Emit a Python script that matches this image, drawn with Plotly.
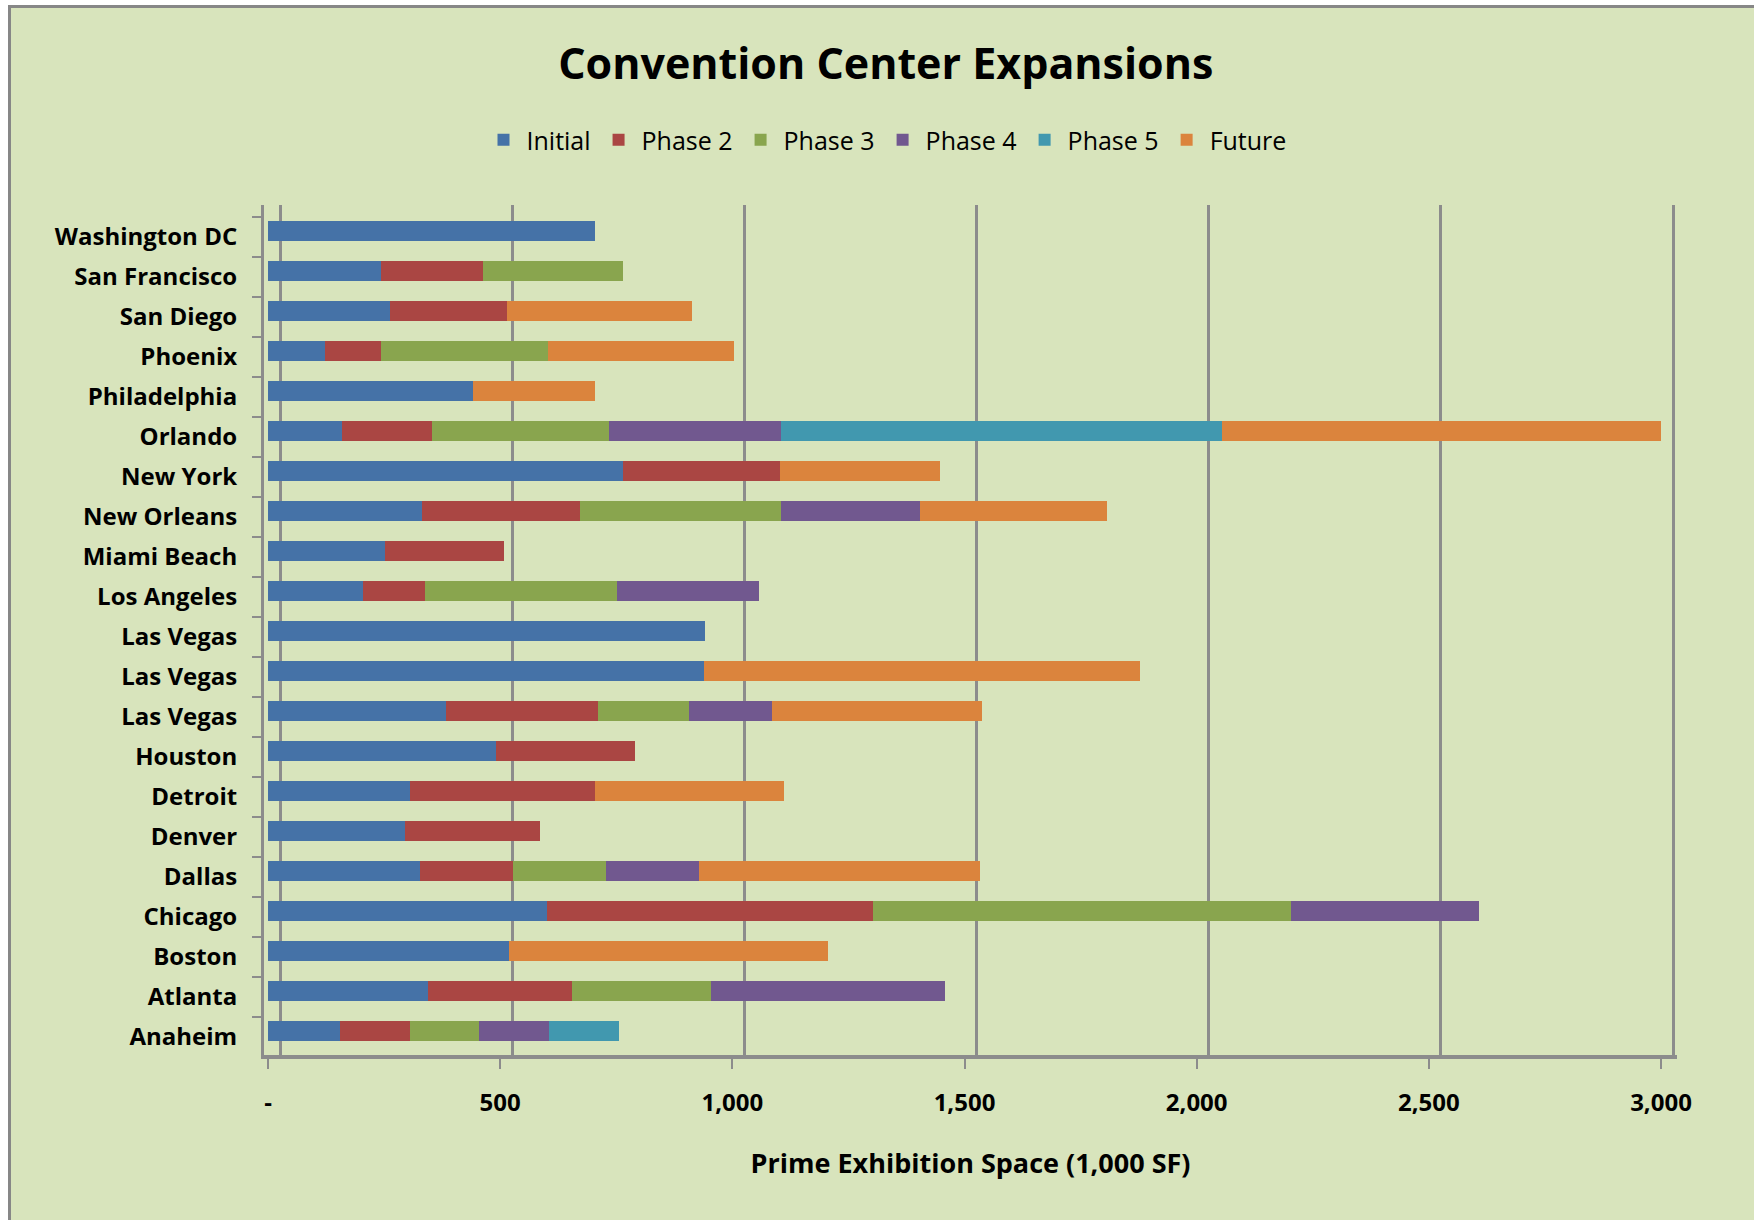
import plotly.graph_objects as go

# ---------------- data (bottom to top) ----------------
centers = ["Anaheim", "Atlanta", "Boston", "Chicago", "Dallas", "Denver", "Detroit",
           "Houston", "Las Vegas", "Las Vegas", "Las Vegas", "Los Angeles", "Miami Beach",
           "New Orleans", "New York", "Orlando", "Philadelphia", "Phoenix", "San Diego",
           "San Francisco", "Washington DC"]

initial = [155, 345, 520, 600, 327, 295, 305, 490, 383, 940, 942, 204, 253, 332, 765, 160, 442, 123, 263, 243, 705]
phase2  = [150, 310, 0,   703, 200, 290, 400, 300, 328, 0,   0,   135, 256, 340, 338, 193, 0,   120, 251, 221, 0]
phase3  = [150, 300, 0,   900, 200, 0,   0,   0,   196, 0,   0,   413, 0,   433, 0,   382, 0,   360, 0,   301, 0]
phase4  = [150, 502, 0,   405, 202, 0,   0,   0,   178, 0,   0,   305, 0,   299, 0,   370, 0,   0,   0,   0,   0]
phase5  = [150, 0,   0,   0,   0,   0,   0,   0,   0,   0,   0,   0,   0,   0,   0,   950, 0,   0,   0,   0,   0]
future  = [0,   0,   685, 0,   604, 0,   406, 0,   453, 938, 0,   0,   0,   403, 344, 945, 262, 401, 399, 0,   0]

series_names = ["Initial", "Phase 2", "Phase 3", "Phase 4", "Phase 5", "Future"]
series_values = [initial, phase2, phase3, phase4, phase5, future]
colors = ["#4572A7", "#AA4643", "#89A54E", "#71588F", "#4198AF", "#DB843D"]

x_ticks = [0, 500, 1000, 1500, 2000, 2500, 3000]
x_ticktext = ["-", "500", "1,000", "1,500", "2,000", "2,500", "3,000"]

# ---------------- layout constants ----------------
W, H = 1754, 1220
L, R, T, B = 264, 77, 205, 165
PW, PH = W - L - R, H - T - B
s = 1393 / 3000.0            # px per unit
xmin = -(268 - L) / s
xmax = xmin + PW / s
back_shift = 26               # back-wall gridline offset (units)

BG = "#D8E4BC"
GRID = "#8C8C8C"
FONT = "Open Sans"

def px_to_paper_x(px):
    return (px - L) / PW

def px_to_paper_y(py):
    return (H - B - py) / PH

ypos = list(range(len(centers)))

fig = go.Figure()
for name, vals, col in zip(series_names, series_values, colors):
    fig.add_trace(go.Bar(
        y=ypos, x=vals, name=name, orientation="h",
        marker=dict(color=col, line=dict(width=0)),
        width=0.5, offset=-0.1,
        hovertemplate="%{x}<extra>" + name + "</extra>",
    ))

# invisible trace to activate the back-wall grid axis
fig.add_trace(go.Scatter(x=[None], y=[None], xaxis="x2", showlegend=False, hoverinfo="skip"))

fig.update_layout(
    width=W, height=H,
    margin=dict(l=L, r=R, t=T, b=B),
    paper_bgcolor="white",
    plot_bgcolor="rgba(0,0,0,0)",
    barmode="stack",
    title=dict(text="Convention Center Expansions", x=0.505, xanchor="center",
               y=1 - 64 / H, yanchor="middle",
               font=dict(family=FONT, size=43, color="black", weight="bold")),
    legend=dict(orientation="h", x=px_to_paper_x(886), xanchor="center",
                y=px_to_paper_y(140), yanchor="middle",
                font=dict(family=FONT, size=25, color="black"),
                bgcolor="rgba(0,0,0,0)", traceorder="normal",
                itemwidth=36),
    xaxis=dict(range=[xmin, xmax], tickvals=x_ticks, ticktext=x_ticktext,
               showgrid=False, zeroline=False,
               showline=True, linecolor=GRID, linewidth=4,
               ticks="outside", ticklen=10, tickcolor=GRID, tickwidth=2,
               ticklabelstandoff=13,
               tickfont=dict(family=FONT, size=24, color="black", weight="bold"),
               title=dict(text="Prime Exhibition Space (1,000 SF)", standoff=38,
                          font=dict(family=FONT, size=27, color="black", weight="bold"))),
    xaxis2=dict(overlaying="x", range=[xmin - back_shift, xmax - back_shift],
                tickvals=x_ticks, showticklabels=False, showgrid=True,
                gridcolor=GRID, gridwidth=3, zeroline=False, showline=False,
                ticks=""),
    yaxis=dict(range=[-0.45, 20.8], tickvals=ypos, ticktext=centers,
               showgrid=False, zeroline=False,
               showline=True, linecolor=GRID, linewidth=3,
               ticks="", ticklabelstandoff=19,
               minor=dict(tickvals=[i - 0.5 for i in range(len(centers) + 1)],
                          ticks="outside", ticklen=9, tickcolor=GRID, tickwidth=2),
               tickfont=dict(family=FONT, size=24, color="black", weight="bold")),
    bargap=0.5,
    shapes=[dict(type="rect", xref="paper", yref="paper", layer="below",
                 x0=px_to_paper_x(9.5), x1=px_to_paper_x(W + 20),
                 y0=px_to_paper_y(H + 20), y1=px_to_paper_y(6.5),
                 fillcolor=BG, line=dict(color="#878787", width=3))],
)

fig.write_html("out.html")
